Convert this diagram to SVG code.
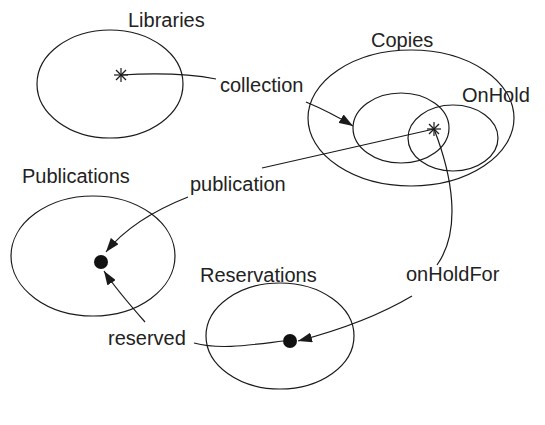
<svg xmlns="http://www.w3.org/2000/svg" width="545" height="425" viewBox="0 0 545 425">
  <defs>
    <marker id="arrow" viewBox="0 0 14 10" refX="14" refY="5" markerWidth="14" markerHeight="10" markerUnits="userSpaceOnUse" orient="auto">
      <path d="M0,0 L14,5 L0,10 z" fill="#1a1a1a"/>
    </marker>
    <g id="star" stroke="#1a1a1a" stroke-width="1.2">
      <line x1="-7" y1="0" x2="7" y2="0"/>
      <line x1="0" y1="-7" x2="0" y2="7"/>
      <line x1="-5" y1="-5" x2="5" y2="5"/>
      <line x1="-5" y1="5" x2="5" y2="-5"/>
    </g>
  </defs>
  <style>
    .set{fill:none;stroke:#1a1a1a;stroke-width:1.2}
    .edge{fill:none;stroke:#1a1a1a;stroke-width:1.2}
    .dot{fill:#111}
    .lbl{font-family:"Liberation Sans",Arial,Helvetica,sans-serif;font-size:20px;fill:#222}
  </style>
  <rect width="545" height="425" fill="#fff"/>

  <!-- sets -->
  <g id="libraries">
    <ellipse class="set" cx="110" cy="84" rx="73" ry="54"/>
    <text class="lbl" x="128" y="27">Libraries</text>
    <use href="#star" x="121" y="75"/>
  </g>
  <g id="copies">
    <ellipse class="set" cx="411" cy="118" rx="103" ry="68"/>
    <text class="lbl" x="371" y="47">Copies</text>
  </g>
  <g id="collection-set">
    <ellipse class="set" cx="401" cy="128" rx="48" ry="35"/>
  </g>
  <g id="onhold">
    <ellipse class="set" cx="453" cy="138" rx="45" ry="33"/>
    <text class="lbl" x="462" y="102">OnHold</text>
    <use href="#star" x="434" y="129"/>
  </g>
  <g id="publications">
    <ellipse class="set" cx="93" cy="256" rx="82" ry="60"/>
    <text class="lbl" x="22" y="183">Publications</text>
    <circle class="dot" cx="101" cy="262" r="7"/>
  </g>
  <g id="reservations">
    <ellipse class="set" cx="280" cy="336" rx="74" ry="53"/>
    <text class="lbl" x="200" y="282">Reservations</text>
    <circle class="dot" cx="290" cy="341" r="7"/>
  </g>

  <!-- connectors -->
  <g id="connectors">
    <path class="edge" d="M121,75 C155,73 190,74 216,79"/>
    <text class="lbl" x="220" y="92">collection</text>
    <path class="edge" d="M306,102 Q330,112 353,126" marker-end="url(#arrow)"/>

    <path class="edge" d="M434,129 L262,168"/>
    <text class="lbl" x="190" y="191">publication</text>
    <path class="edge" d="M188,197 C150,212 122,232 106,252" marker-end="url(#arrow)"/>

    <path class="edge" d="M434,129 C452,175 462,230 437,265"/>
    <text class="lbl" x="406" y="281">onHoldFor</text>
    <path class="edge" d="M412,296 C380,315 340,330 298,341" marker-end="url(#arrow)"/>

    <path class="edge" d="M283,341 C250,345 220,350 194,343"/>
    <text class="lbl" x="108" y="345">reserved</text>
    <path class="edge" d="M145,322 C130,305 115,288 104,271" marker-end="url(#arrow)"/>
  </g>
</svg>
